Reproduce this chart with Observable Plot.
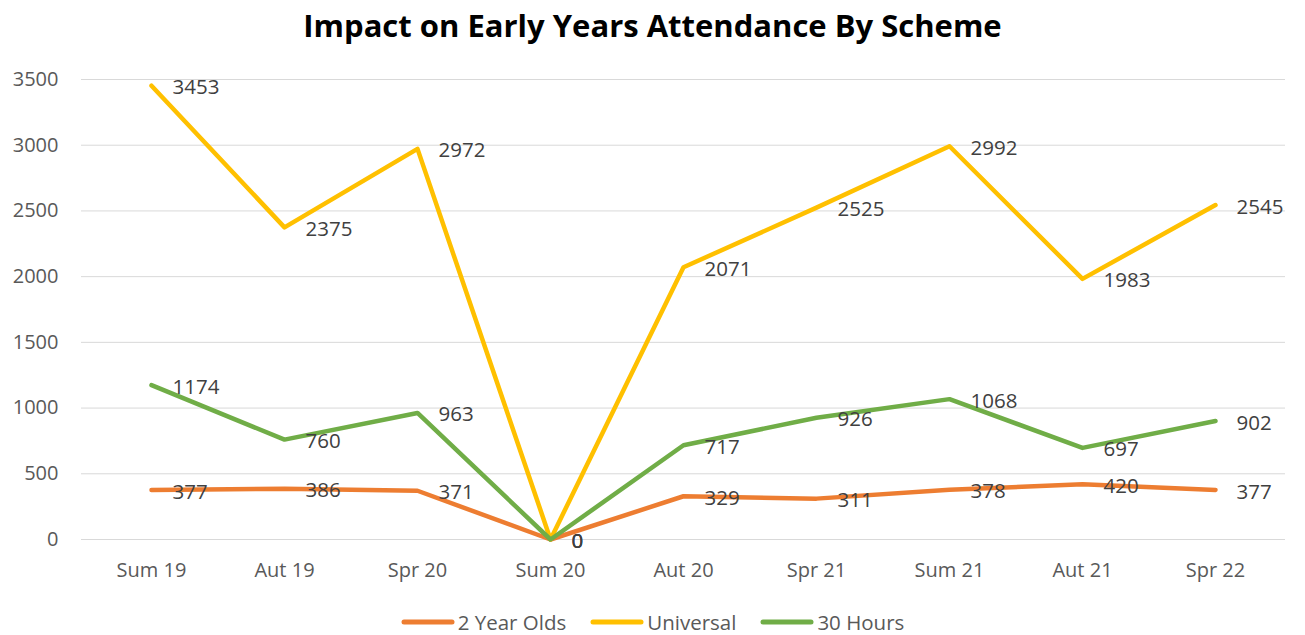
<!DOCTYPE html>
<html><head><meta charset="utf-8">
<script src="https://cdn.jsdelivr.net/npm/d3@7"></script>
<script src="https://cdn.jsdelivr.net/npm/@observablehq/plot@0.6"></script>
<style>
body{margin:0;background:#fff;font-family:"Open Sans",sans-serif;}
#wrap{position:relative;width:1305px;height:635px;overflow:hidden;}
#title{position:absolute;top:0;left:0;width:1305px;text-align:center;font-weight:bold;font-size:31px;line-height:50px;color:#000;}
#chart{position:absolute;top:50px;left:0;}
#legend{position:absolute;top:608px;left:0;width:1305px;display:flex;justify-content:center;font-size:20.5px;color:#595959;line-height:28px;}
.item{display:flex;align-items:center;margin:0 12px;}
.item svg{margin-right:3px;}
</style></head>
<body><div id="wrap"><div id="title">Impact on Early Years Attendance By Scheme</div><div id="chart"></div><div id="legend"></div></div>
<script>
const terms = ["Sum 19","Aut 19","Spr 20","Sum 20","Aut 20","Spr 21","Sum 21","Aut 21","Spr 22"];
const seriesNames = ["2 Year Olds","Universal","30 Hours"];
const twoYearOlds = [377,386,371,0,329,311,378,420,377];
const universal = [3453,2375,2972,0,2071,2525,2992,1983,2545];
const thirtyHours = [1174,760,963,0,717,926,1068,697,902];
const colors = ["#ED7D31","#FFC000","#70AD47"];
const yTicks = [0,500,1000,1500,2000,2500,3000,3500];

const valuesBySeries = [twoYearOlds, universal, thirtyHours];
const data = [];
seriesNames.forEach((s,i)=>terms.forEach((t,j)=>data.push({series:s, term:t, value:valuesBySeries[i][j]})));

const chart = Plot.plot({
  width:1305, height:545,
  marginTop:29, marginBottom:56, marginLeft:81, marginRight:20,
  style:{fontFamily:"'Open Sans',sans-serif", fontSize:"20px", color:"#595959", background:"#fff"},
  x:{type:"point", domain:terms, padding:0.5, label:null, tickSize:0, tickPadding:23},
  y:{domain:[0,3500], ticks:yTicks, label:null, tickSize:0, tickPadding:23, tickFormat:d=>String(d)},
  color:{domain:seriesNames, range:colors},
  marks:[
    Plot.gridY(yTicks,{stroke:"#d9d9d9", strokeOpacity:1, strokeWidth:1}),
    Plot.line(data,{x:"term", y:"value", z:"series", stroke:"series", strokeWidth:4.5, strokeLinejoin:"round"}),
    Plot.text(data,{x:"term", y:"value", text:d=>String(d.value), textAnchor:"start", dx:21, dy:2, fill:"#404040", fontSize:20.5})
  ]
});
document.getElementById("chart").appendChild(chart);

const legend = document.getElementById("legend");
seriesNames.forEach((s,i)=>{
  const it = document.createElement("div"); it.className="item";
  it.innerHTML = `<svg width="54" height="10"><line x1="3" y1="5" x2="51" y2="5" stroke="${colors[i]}" stroke-width="5" stroke-linecap="round"/></svg><span>${s}</span>`;
  legend.appendChild(it);
});
</script></body></html>
